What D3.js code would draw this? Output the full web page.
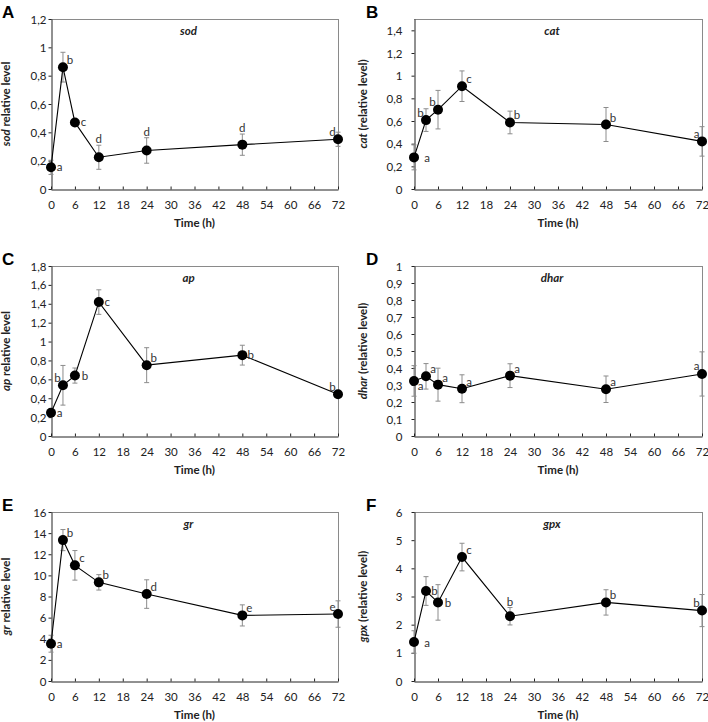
<!DOCTYPE html>
<html><head><meta charset="utf-8">
<script src="https://cdn.jsdelivr.net/npm/d3@7"></script>
<style>body{margin:0;background:#fff} svg{display:block}</style>
</head><body>
<svg id="c" width="708" height="722"></svg>
<script>
const times = [0, 3, 6, 12, 24, 48, 72];
const xTickLabels = ["0","6","12","18","24","30","36","42","48","54","60","66","72"];

const sodValues  = [0.153, 0.86, 0.47, 0.224, 0.272, 0.313, 0.351];
const sodErrors  = [0.05, 0.105, 0.02, 0.085, 0.09, 0.075, 0.05];
const sodLetters = ["a","b","c","d","d","d","d"];
const sodLetterPos = ["r","ur","r","top","top","top","ul"];
const sodTickLabels = ["0","0,2","0,4","0,6","0,8","1","1,2"];

const catValues  = [0.279, 0.608, 0.70, 0.907, 0.587, 0.569, 0.42];
const catErrors  = [0.11, 0.1, 0.17, 0.135, 0.1, 0.15, 0.13];
const catLetters = ["a","b","b","c","b","b","a"];
const catLetterPos = ["rr","ul","ul","ur","ur","ur","ul"];
const catTickLabels = ["0","0,2","0,4","0,6","0,8","1","1,2","1,4"];

const apValues  = [0.247, 0.537, 0.64, 1.418, 0.75, 0.856, 0.442];
const apErrors  = [0.04, 0.21, 0.08, 0.13, 0.185, 0.105, 0.02];
const apLetters = ["a","b","b","c","b","b","b"];
const apLetterPos = ["r","ul","rw","r","ur","r","ul"];
const apTickLabels = ["0","0,2","0,4","0,6","0,8","1","1,2","1,4","1,6","1,8"];

const dharValues  = [0.324, 0.351, 0.302, 0.278, 0.355, 0.275, 0.365];
const dharErrors  = [0.09, 0.075, 0.097, 0.082, 0.07, 0.078, 0.13];
const dharLetters = ["a","a","a","a","a","a","a"];
const dharLetterPos = ["lr","ur","ur","ur","ur","ur","ul"];
const dharTickLabels = ["0","0,1","0,2","0,3","0,4","0,5","0,6","0,7","0,8","0,9","1"];

const grValues  = [3.53, 13.34, 10.95, 9.34, 8.23, 6.21, 6.34];
const grErrors  = [0.8, 1.0, 1.4, 0.73, 1.35, 1.0, 1.25];
const grLetters = ["a","b","c","b","d","e","e"];
const grLetterPos = ["r","ur","ur","ur","ur","ur","ul"];
const grTickLabels = ["0","2","4","6","8","10","12","14","16"];

const gpxValues  = [1.385, 3.195, 2.79, 4.40, 2.30, 2.79, 2.50];
const gpxErrors  = [0.4, 0.51, 0.63, 0.49, 0.31, 0.45, 0.57];
const gpxLetters = ["a","b","b","c","b","b","b"];
const gpxLetterPos = ["rr","r","rw","ur","top","ur","ul"];
const gpxTickLabels = ["0","1","2","3","4","5","6"];

const panels = [
  {tag:"A", gene:"sod",  rest:" relative level",   v:sodValues,  e:sodErrors,  L:sodLetters,  P:sodLetterPos,  T:sodTickLabels,  yMax:1.2, col:0, row:0},
  {tag:"B", gene:"cat",  rest:" (relative level)", v:catValues,  e:catErrors,  L:catLetters,  P:catLetterPos,  T:catTickLabels,  yMax:1.5, col:1, row:0},
  {tag:"C", gene:"ap",   rest:" relative level",   v:apValues,   e:apErrors,   L:apLetters,   P:apLetterPos,   T:apTickLabels,   yMax:1.8, col:0, row:1},
  {tag:"D", gene:"dhar", rest:" (relative level)", v:dharValues, e:dharErrors, L:dharLetters, P:dharLetterPos, T:dharTickLabels, yMax:1,   col:1, row:1},
  {tag:"E", gene:"gr",   rest:" relative level",   v:grValues,   e:grErrors,   L:grLetters,   P:grLetterPos,   T:grTickLabels,   yMax:16,  col:0, row:2},
  {tag:"F", gene:"gpx",  rest:" (relative level)", v:gpxValues,  e:gpxErrors,  L:gpxLetters,  P:gpxLetterPos,  T:gpxTickLabels,  yMax:6,   col:1, row:2}
];

const colX = [[51, 338], [414, 702]];
const rowY = [[19, 189], [266, 436], [512, 681]];
const tickGap = [5, 12];
const yTitleX = [6, 363];
const FONT = "Lato, 'Open Sans', sans-serif";

const svg = d3.select("#c");

const offsets = {
  r:  [8.5, 0], rw: [10, 0.5], rr: [13, 1], ur: [7, -7], ul: [-5.5, -7.5], lr: [6.5, 5]
};

panels.forEach(p => {
  const [x0, x1] = colX[p.col];
  const [y0, y1] = rowY[p.row];
  const x = d3.scaleLinear().domain([0, 72]).range([x0, x1]);
  const y = d3.scaleLinear().domain([0, p.yMax]).range([y1, y0]);
  const g = svg.append("g");

  // frame
  g.append("line").attr("x1", x0).attr("x2", x1).attr("y1", y0 + 0.5).attr("y2", y0 + 0.5).attr("stroke", "#8a8a8a");
  g.append("line").attr("x1", x1 + 0.5).attr("x2", x1 + 0.5).attr("y1", y0).attr("y2", y1).attr("stroke", "#8a8a8a");

  // y axis
  const yVals = p.T.map(t => +t.replace(",", "."));
  const yAxis = d3.axisLeft(y).tickValues(yVals).tickSize(3).tickSizeOuter(0)
    .tickFormat((d, i) => p.T[i]);
  const ya = g.append("g").attr("transform", `translate(${x0 + 0.5},0)`).call(yAxis);
  ya.select(".domain").attr("stroke", "#222");
  ya.selectAll(".tick line").attr("stroke", "#222");
  ya.selectAll("text").attr("font-family", FONT).attr("font-size", 11.5).attr("fill", "#222")
    .attr("x", -tickGap[p.col]).attr("dy", "0.35em");

  // x axis
  const xVals = xTickLabels.map(Number);
  const xAxis = d3.axisBottom(x).tickValues(xVals).tickSize(-3).tickSizeOuter(0)
    .tickFormat((d, i) => xTickLabels[i]);
  const xa = g.append("g").attr("transform", `translate(0,${y1 + 0.5})`).call(xAxis);
  xa.select(".domain").attr("stroke", "#222");
  xa.selectAll(".tick line").attr("stroke", "#222");
  xa.selectAll("text").attr("font-family", FONT).attr("font-size", 11.5).attr("fill", "#222")
    .attr("y", 15).attr("dy", "0.35em");

  // x title
  g.append("text").attr("x", (x0 + x1) / 2).attr("y", y1 + 34).attr("dy", "0.35em")
    .attr("text-anchor", "middle").attr("font-family", FONT).attr("font-weight", "bold")
    .attr("font-size", 11.5).attr("fill", "#222").text("Time (h)");

  // y title
  const yt = g.append("text")
    .attr("transform", `translate(${yTitleX[p.col]},${(y0 + y1) / 2}) rotate(-90)`)
    .attr("dy", "0.35em").attr("text-anchor", "middle").attr("font-family", FONT)
    .attr("font-weight", "bold").attr("font-size", 11.5).attr("fill", "#222");
  yt.append("tspan").attr("font-style", "italic").text(p.gene);
  yt.append("tspan").text(p.rest);

  // inner title
  g.append("text").attr("x", (x0 + x1) / 2 - 6).attr("y", y0 + 12).attr("dy", "0.35em")
    .attr("text-anchor", "middle").attr("font-family", FONT).attr("font-weight", "bold")
    .attr("font-style", "italic").attr("font-size", 11.5).attr("fill", "#222").text(p.gene);

  // panel tag
  g.append("text").attr("x", p.col === 0 ? 2 : 366).attr("y", y0 - 1)
    .attr("font-family", "'Liberation Sans', Arial, sans-serif").attr("font-weight", "bold")
    .attr("font-size", 17).attr("fill", "#000").text(p.tag);

  const pts = times.map((t, i) => ({t, v: p.v[i], e: p.e[i], l: p.L[i], pos: p.P[i]}));

  // error bars
  const eb = g.append("g").attr("stroke", "#8c8c8c").attr("stroke-width", 1);
  pts.forEach(d => {
    const cx = x(d.t);
    eb.append("line").attr("x1", cx).attr("x2", cx).attr("y1", y(d.v - d.e)).attr("y2", y(d.v + d.e));
    [d.v - d.e, d.v + d.e].forEach(val => {
      eb.append("line").attr("x1", cx - 2.5).attr("x2", cx + 2.5).attr("y1", y(val)).attr("y2", y(val));
    });
  });

  // line
  g.append("path").datum(pts)
    .attr("d", d3.line().x(d => x(d.t)).y(d => y(d.v)))
    .attr("fill", "none").attr("stroke", "#000").attr("stroke-width", 1.1);

  // markers
  g.selectAll("circle.m").data(pts).join("circle").attr("class", "m")
    .attr("cx", d => x(d.t)).attr("cy", d => y(d.v)).attr("r", 5).attr("fill", "#000");

  // letters
  g.selectAll("text.l").data(pts).join("text").attr("class", "l")
    .attr("x", d => d.pos === "top" ? x(d.t) : x(d.t) + offsets[d.pos][0])
    .attr("y", d => d.pos === "top" ? y(d.v + d.e) - 6 : y(d.v) + offsets[d.pos][1])
    .attr("dy", "0.35em").attr("text-anchor", "middle").attr("font-family", FONT)
    .attr("font-size", 11.5).attr("fill", "#333").text(d => d.l);
});
</script>
</body></html>
